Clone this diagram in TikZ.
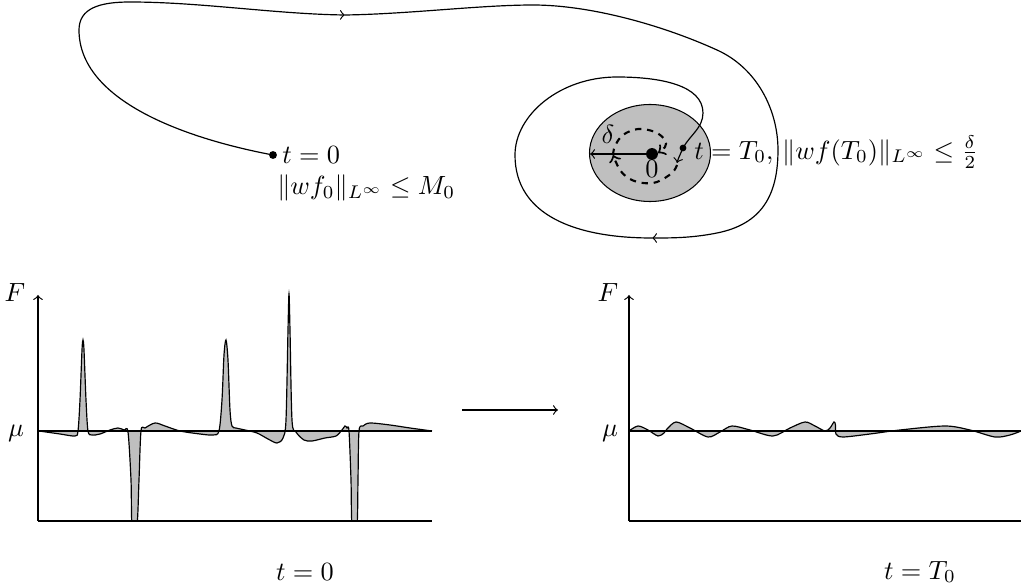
\documentclass[tikz,border=0pt]{standalone}
\usetikzlibrary{arrows}
\begin{document}
\begin{tikzpicture}[x=0.38pt,y=-0.38pt,
  traj/.style={line width=0.45pt},
  dot/.style={circle,fill=black,inner sep=0pt,minimum size=#1},
  shade/.style={fill=black!25},
  dashedloop/.style={line width=0.8pt,dash pattern=on 2.4pt off 2.2pt},
  baseln/.style={line width=0.8pt},
  lbl/.style={inner sep=0pt}]
\useasboundingbox (0,0) rectangle (1021,586);

% ---------- top: ball and trajectory ----------
\draw[fill=black!25] (650,153) ellipse [x radius=60.5, y radius=48.5];
\node[dot=3pt] (start) at (273,155) {};
\node[dot=4.5pt] (zero) at (652,154) {};
\node[dot=2.6pt] (tT) at (683,148) {};
\coordinate (ballleft) at (590,154);
\coordinate (arrtop) at (345,15);
\coordinate (arrbot) at (652,238);
\coordinate (trajend) at (677,163);

\draw[traj,->] (start.center) .. controls (183,138) and (79,100) .. (79,30)
  .. controls (79,8) and (100,2) .. (130,2)
  .. controls (200,2) and (275,14) .. (arrtop);
\draw[traj,->] (arrtop) .. controls (410,14) and (480,5) .. (533,5)
  .. controls (590,5) and (662,25) .. (717,50)
  .. controls (757,68) and (778,110) .. (778,150)
  .. controls (778,195) and (762,224) .. (717,233)
  .. controls (692,238) and (672,238) .. (arrbot);
\draw[traj,->] (arrbot) .. controls (575,238) and (515,215) .. (515,155)
  .. controls (515,115) and (560,77) .. (617,77)
  .. controls (660,77) and (703,85) .. (703,113)
  .. controls (703,128) and (690,135) .. (tT.center)
  .. controls (680,155) and (678,159) .. (trajend);

% dashed spiral into 0
\draw[dashedloop,->] plot[smooth,tension=0.6] coordinates {(677,165) (672,173) (657,182) (643,183) (630,179) (620,170) (613,155)};
\draw[dashedloop,->] plot[smooth,tension=0.6] coordinates {(613,155) (615,146) (623,135) (638,129) (655,132) (665,140) (665,147) (658,153)};

\draw[traj,->] (zero) -- (ballleft);
\node[lbl] (delta) at (608,134) {$\delta$};
\node[lbl] (zerolbl) at (652,169) {$0$};
\node[anchor=west] (t0) at (273,155) {$t=0$};
\node[anchor=west] (m0) at (268,188) {$\|wf_0\|_{L^\infty}\leq M_0$};
\node[anchor=west] (tT0) at (685,152) {$t=T_0,\,\|wf(T_0)\|_{L^\infty}\leq\frac{\delta}{2}$};

% ---------- left plot ----------
\begin{scope}
\clip (38,280) rectangle (433,521);
\fill[shade] plot[smooth,tension=0.5] coordinates {(39,431) (60,434) (75,436) (78,431) (80,400) (82,350) (83,340) (84,350) (86,400) (88,431) (92,435) (100,434) (110,430) (118,428) (124,430) (128,432) (131,480) (132,525) (137,525) (139,480) (141,431) (145,428) (155,423) (165,426) (180,431) (200,434) (213,435) (219,431) (222,400) (224,355) (226,340) (228,360) (230,410) (232,426) (236,428) (245,430) (257,433) (268,439) (277,443) (283,438) (286,420) (288,330) (289,294) (290,330) (292,420) (296,432) (304,440) (312,441) (325,438) (336,436) (342,430) (345,426) (347,428) (349,431) (351,480) (352,525) (357,525) (358,480) (359,431) (363,426) (370,423) (390,425) (410,428) (432,431)} -- (432,431) -- (39,431) -- cycle;
\draw[traj] plot[smooth,tension=0.5] coordinates {(39,431) (60,434) (75,436) (78,431) (80,400) (82,350) (83,340) (84,350) (86,400) (88,431) (92,435) (100,434) (110,430) (118,428) (124,430) (128,432) (131,480) (132,525) (137,525) (139,480) (141,431) (145,428) (155,423) (165,426) (180,431) (200,434) (213,435) (219,431) (222,400) (224,355) (226,340) (228,360) (230,410) (232,426) (236,428) (245,430) (257,433) (268,439) (277,443) (283,438) (286,420) (288,330) (289,294) (290,330) (292,420) (296,432) (304,440) (312,441) (325,438) (336,436) (342,430) (345,426) (347,428) (349,431) (351,480) (352,525) (357,525) (358,480) (359,431) (363,426) (370,423) (390,425) (410,428) (432,431)};
\end{scope}
\coordinate (lo) at (38,521);
\coordinate (ltop) at (38,295);
\coordinate (lright) at (432,521);
\draw[traj,->] (lo) -- (ltop);
\draw[traj] (lo) -- (lright);
\draw[baseln] (38,431) -- (432,431);
\node (lF) at (15,293) {$F$};
\node (lmu) at (16,433) {$\mu$};
\node (lt) at (305,572) {$t=0$};

% ---------- middle arrow ----------
\coordinate (ma) at (462,410);
\coordinate (mb) at (558,410);
\draw[traj,->] (ma) -- (mb);

% ---------- right plot ----------
\begin{scope}
\clip (629,280) rectangle (1021,521);
\fill[shade] plot[smooth,tension=0.5] coordinates {(629,431) (638,426) (648,430) (658,436) (664,433) (667,429) (676,422) (690,428) (708,437) (720,432) (732,426) (750,430) (773,436) (790,428) (805,422) (815,426) (825,431) (830,428) (834,422) (835.5,425) (836,434) (843,437) (870,434) (900,430) (945,426) (970,430) (995,437) (1010,435) (1021,431)} -- (1021,431) -- (629,431) -- cycle;
\draw[traj] plot[smooth,tension=0.5] coordinates {(629,431) (638,426) (648,430) (658,436) (664,433) (667,429) (676,422) (690,428) (708,437) (720,432) (732,426) (750,430) (773,436) (790,428) (805,422) (815,426) (825,431) (830,428) (834,422) (835.5,425) (836,434) (843,437) (870,434) (900,430) (945,426) (970,430) (995,437) (1010,435) (1021,431)};
\end{scope}
\coordinate (ro) at (629,521);
\coordinate (rtop) at (629,295);
\coordinate (rright) at (1021,521);
\draw[traj,->] (ro) -- (rtop);
\draw[traj] (ro) -- (rright);
\draw[baseln] (629,431) -- (1021,431);
\node (rF) at (608,293) {$F$};
\node (rmu) at (610,433) {$\mu$};
\node (rt) at (920,572) {$t=T_0$};
\end{tikzpicture}
\end{document}
